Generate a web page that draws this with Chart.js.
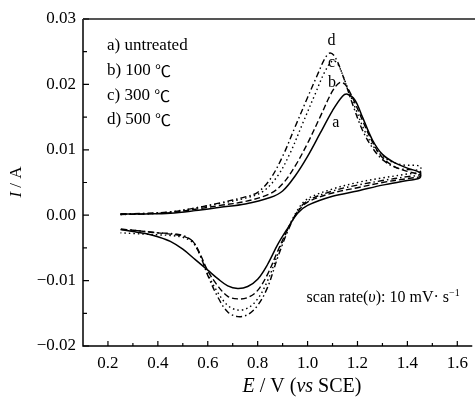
<!DOCTYPE html>
<html><head><meta charset="utf-8">
<script src="https://cdn.jsdelivr.net/npm/chart.js@4"></script>
<style>html,body{margin:0;padding:0;background:#fff}</style>
</head><body>
<canvas id="c" width="475" height="399"></canvas>
<script>
// ---- data (E in V vs SCE, I in A) ----
const aE = [0.25,0.35,0.45,0.55,0.65,0.75,0.85,0.90,0.95,1.00,1.05,1.10,1.14,1.16,1.19,1.22,1.26,1.30,1.35,1.40,1.45,
            1.45,1.40,1.30,1.20,1.10,1.00,0.96,0.92,0.88,0.84,0.80,0.76,0.72,0.68,0.64,0.60,0.55,0.50,0.45,0.40,0.35,0.30,0.25];
const aI = [0.0002,0.0002,0.0003,0.0007,0.0012,0.0017,0.0027,0.0037,0.0060,0.0090,0.0125,0.0160,0.0182,0.0185,0.0176,0.0150,0.0115,0.0093,0.0080,0.0072,0.0065,
            0.0057,0.0053,0.0046,0.0037,0.0029,0.0015,0.0003,-0.0020,-0.0045,-0.0075,-0.0098,-0.0109,-0.0112,-0.0108,-0.0097,-0.0084,-0.0068,-0.0052,-0.0040,-0.0033,-0.0028,-0.0025,-0.0022];

const bE = [0.25,0.35,0.45,0.55,0.65,0.75,0.85,0.90,0.95,1.00,1.05,1.10,1.13,1.15,1.18,1.22,1.26,1.30,1.35,1.40,1.45,
            1.45,1.40,1.30,1.20,1.10,1.00,0.96,0.92,0.88,0.84,0.80,0.76,0.72,0.68,0.64,0.60,0.57,0.54,0.50,0.45,0.40,0.35,0.30,0.25];
const bI = [0.0001,0.0002,0.0004,0.0009,0.0015,0.0021,0.0033,0.0048,0.0075,0.0110,0.0150,0.0190,0.0203,0.0200,0.0180,0.0145,0.0112,0.0088,0.0074,0.0067,0.0062,
            0.0059,0.0056,0.0050,0.0042,0.0034,0.0020,0.0005,-0.0022,-0.0055,-0.0090,-0.0115,-0.0126,-0.0128,-0.0124,-0.0108,-0.0085,-0.0060,-0.0040,-0.0032,-0.0029,-0.0027,-0.0025,-0.0023,-0.0021];

const cE = [0.25,0.35,0.45,0.55,0.65,0.75,0.82,0.88,0.93,0.98,1.03,1.07,1.10,1.12,1.15,1.19,1.23,1.27,1.32,1.38,1.45,
            1.45,1.40,1.30,1.20,1.10,1.00,0.96,0.92,0.88,0.84,0.80,0.76,0.72,0.68,0.64,0.60,0.57,0.54,0.50,0.45,0.40,0.35,0.30,0.25];
const cI = [0.0001,0.0002,0.0005,0.0011,0.0018,0.0026,0.0036,0.0060,0.0095,0.0140,0.0185,0.0220,0.0236,0.0232,0.0205,0.0165,0.0128,0.0102,0.0085,0.0077,0.0075,
            0.0066,0.0063,0.0057,0.0050,0.0040,0.0025,0.0008,-0.0022,-0.0060,-0.0100,-0.0128,-0.0142,-0.0145,-0.0138,-0.0118,-0.0090,-0.0062,-0.0042,-0.0034,-0.0031,-0.0030,-0.0029,-0.0028,-0.0027];

const dE = [0.25,0.35,0.45,0.55,0.65,0.75,0.80,0.85,0.90,0.95,1.00,1.04,1.07,1.09,1.11,1.14,1.18,1.22,1.26,1.30,1.36,1.45,
            1.45,1.40,1.30,1.20,1.10,1.00,0.96,0.92,0.88,0.84,0.80,0.76,0.72,0.68,0.64,0.60,0.57,0.54,0.50,0.45,0.40,0.35,0.30,0.25];
const dI = [0.0002,0.0003,0.0005,0.0011,0.0019,0.0028,0.0035,0.0055,0.0090,0.0135,0.0180,0.0215,0.0240,0.0248,0.0242,0.0215,0.0170,0.0130,0.0103,0.0085,0.0072,0.0068,
            0.0062,0.0059,0.0053,0.0046,0.0037,0.0022,0.0006,-0.0025,-0.0065,-0.0110,-0.0138,-0.0152,-0.0155,-0.0148,-0.0125,-0.0092,-0.0062,-0.0040,-0.0031,-0.0028,-0.0027,-0.0025,-0.0023,-0.0022];

const xTickValues = [0.2,0.4,0.6,0.8,1.0,1.2,1.4,1.6];
const xMinorValues = [0.3,0.5,0.7,0.9,1.1,1.3,1.5];
const yTickValues = [-0.02,-0.01,0.00,0.01,0.02,0.03];
const yMinorValues = [-0.015,-0.005,0.005,0.015,0.025];
const legendPrefixes = ['a) untreated','b) 100 ','c) 300 ','d) 500 '];
const legendUnits = ['','\u2103','\u2103','\u2103'];
const curveLabels = ['a','b','c','d'];

const pts = (E,I) => E.map((e,i)=>({x:e,y:I[i]}));
const FONT = "'Liberation Serif','Times New Roman',serif";

function richText(ctx, parts, x, y, align, size) {
  const fontFor = s => s==='cjk' ? Math.round(size*0.95) + "px 'Noto Sans CJK SC'," + FONT :
    (s==='i' ? 'italic ' : '') + (s==='sup' ? Math.round(size*0.65) : size) + 'px ' + FONT;
  let w = 0;
  parts.forEach(p => { ctx.font = fontFor(p[1]); w += ctx.measureText(p[0]).width; });
  let cx = align==='center' ? x - w/2 : (align==='right' ? x - w : x);
  ctx.textAlign = 'left'; ctx.textBaseline = 'middle';
  parts.forEach(p => {
    ctx.font = fontFor(p[1]);
    ctx.fillText(p[0], cx, p[1]==='sup' ? y - size*0.3 : y);
    cx += ctx.measureText(p[0]).width;
  });
}

const decor = {
  id: 'decor',
  afterDatasetsDraw(chart) {
    const {ctx, chartArea: ca, scales: {x, y}} = chart;
    ctx.save();
    ctx.fillStyle = '#000'; ctx.strokeStyle = '#000';
    ctx.lineWidth = 1.5;
    ctx.beginPath();
    ctx.moveTo(ca.left, ca.top); ctx.lineTo(ca.left, ca.bottom); ctx.lineTo(ca.right, ca.bottom);
    ctx.stroke();
    ctx.strokeStyle = '#555'; ctx.lineWidth = 2;
    ctx.beginPath(); ctx.moveTo(ca.left, ca.top); ctx.lineTo(chart.width, ca.top); ctx.stroke();
    ctx.strokeStyle = '#000'; ctx.lineWidth = 1.2;
    ctx.beginPath();
    xTickValues.forEach(v => { const px = x.getPixelForValue(v); ctx.moveTo(px, ca.bottom); ctx.lineTo(px, ca.bottom - 5); });
    xMinorValues.forEach(v => { const px = x.getPixelForValue(v); ctx.moveTo(px, ca.bottom); ctx.lineTo(px, ca.bottom - 3); });
    yTickValues.forEach(v => { const py = y.getPixelForValue(v); ctx.moveTo(ca.left, py); ctx.lineTo(ca.left + 6, py); });
    yMinorValues.forEach(v => { const py = y.getPixelForValue(v); ctx.moveTo(ca.left, py); ctx.lineTo(ca.left + 4, py); });
    ctx.stroke();
    ctx.fillStyle = '#000';
    const legY = [0.0260, 0.0221, 0.0183, 0.0146];
    legendPrefixes.forEach((t, i) => richText(ctx, [[t, ''], [legendUnits[i], 'cjk']],
      x.getPixelForValue(0.196), y.getPixelForValue(legY[i]), 'left', 17));
    const labPos = [[1.113,0.0142],[1.098,0.0202],[1.096,0.0233],[1.096,0.0266]];
    curveLabels.forEach((t, i) => richText(ctx, [[t, '']], x.getPixelForValue(labPos[i][0]), y.getPixelForValue(labPos[i][1]), 'center', 16));
    richText(ctx, [['scan rate(', ''], ['\u03c5', 'i'], ['): 10 mV\u00b7 s', ''], ['\u22121', 'sup']],
      x.getPixelForValue(0.996), y.getPixelForValue(-0.0127), 'left', 16);
    richText(ctx, [['E', 'i'], [' / V (', ''], ['vs', 'i'], [' SCE)', '']], 302, 387, 'center', 20);
    ctx.save();
    ctx.translate(17, 182); ctx.rotate(-Math.PI/2);
    richText(ctx, [['I', 'i'], [' / A', '']], 0, 0, 'center', 17);
    ctx.restore();
    ctx.restore();
  }
};

const lw = 1.4;
new Chart(document.getElementById('c'), {
  type: 'scatter',
  data: { datasets: [
    { label: 'a', data: pts(aE, aI), borderColor: '#000', borderWidth: 1.5, borderDash: [] },
    { label: 'b', data: pts(bE, bI), borderColor: '#000', borderWidth: lw, borderDash: [6, 3] },
    { label: 'c', data: pts(cE, cI), borderColor: '#000', borderWidth: lw, borderDash: [1.5, 3] },
    { label: 'd', data: pts(dE, dI), borderColor: '#000', borderWidth: lw, borderDash: [6, 3, 1.5, 3] }
  ].map(d => Object.assign(d, { showLine: true, pointRadius: 0, tension: 0.35, fill: false })) },
  options: {
    responsive: false, animation: false, devicePixelRatio: 1,
    layout: { padding: { top: 19, right: 2, left: 0, bottom: 0 } },
    plugins: { legend: { display: false }, tooltip: { enabled: false } },
    scales: {
      x: {
        type: 'linear', min: 0.1, max: 1.66,
        grid: { display: false, drawTicks: false }, border: { display: false },
        afterBuildTicks: s => { s.ticks = xTickValues.map(v => ({ value: v })); },
        afterFit: s => { s.height = 53; },
        ticks: { padding: 7, color: '#000', font: { family: FONT, size: 17 }, maxRotation: 0, autoSkip: false,
          callback: v => Number(v).toFixed(1) }
      },
      y: {
        type: 'linear', min: -0.02, max: 0.03,
        grid: { display: false, drawTicks: false }, border: { display: false },
        afterBuildTicks: s => { s.ticks = yTickValues.map(v => ({ value: v })); },
        afterFit: s => { s.width = 83; },
        ticks: { padding: 7, color: '#000', font: { family: FONT, size: 17 }, autoSkip: false,
          callback: v => (v < -1e-9 ? '\u2212' : '') + Math.abs(v).toFixed(2) }
      }
    }
  },
  plugins: [decor]
});
</script>
</body></html>
